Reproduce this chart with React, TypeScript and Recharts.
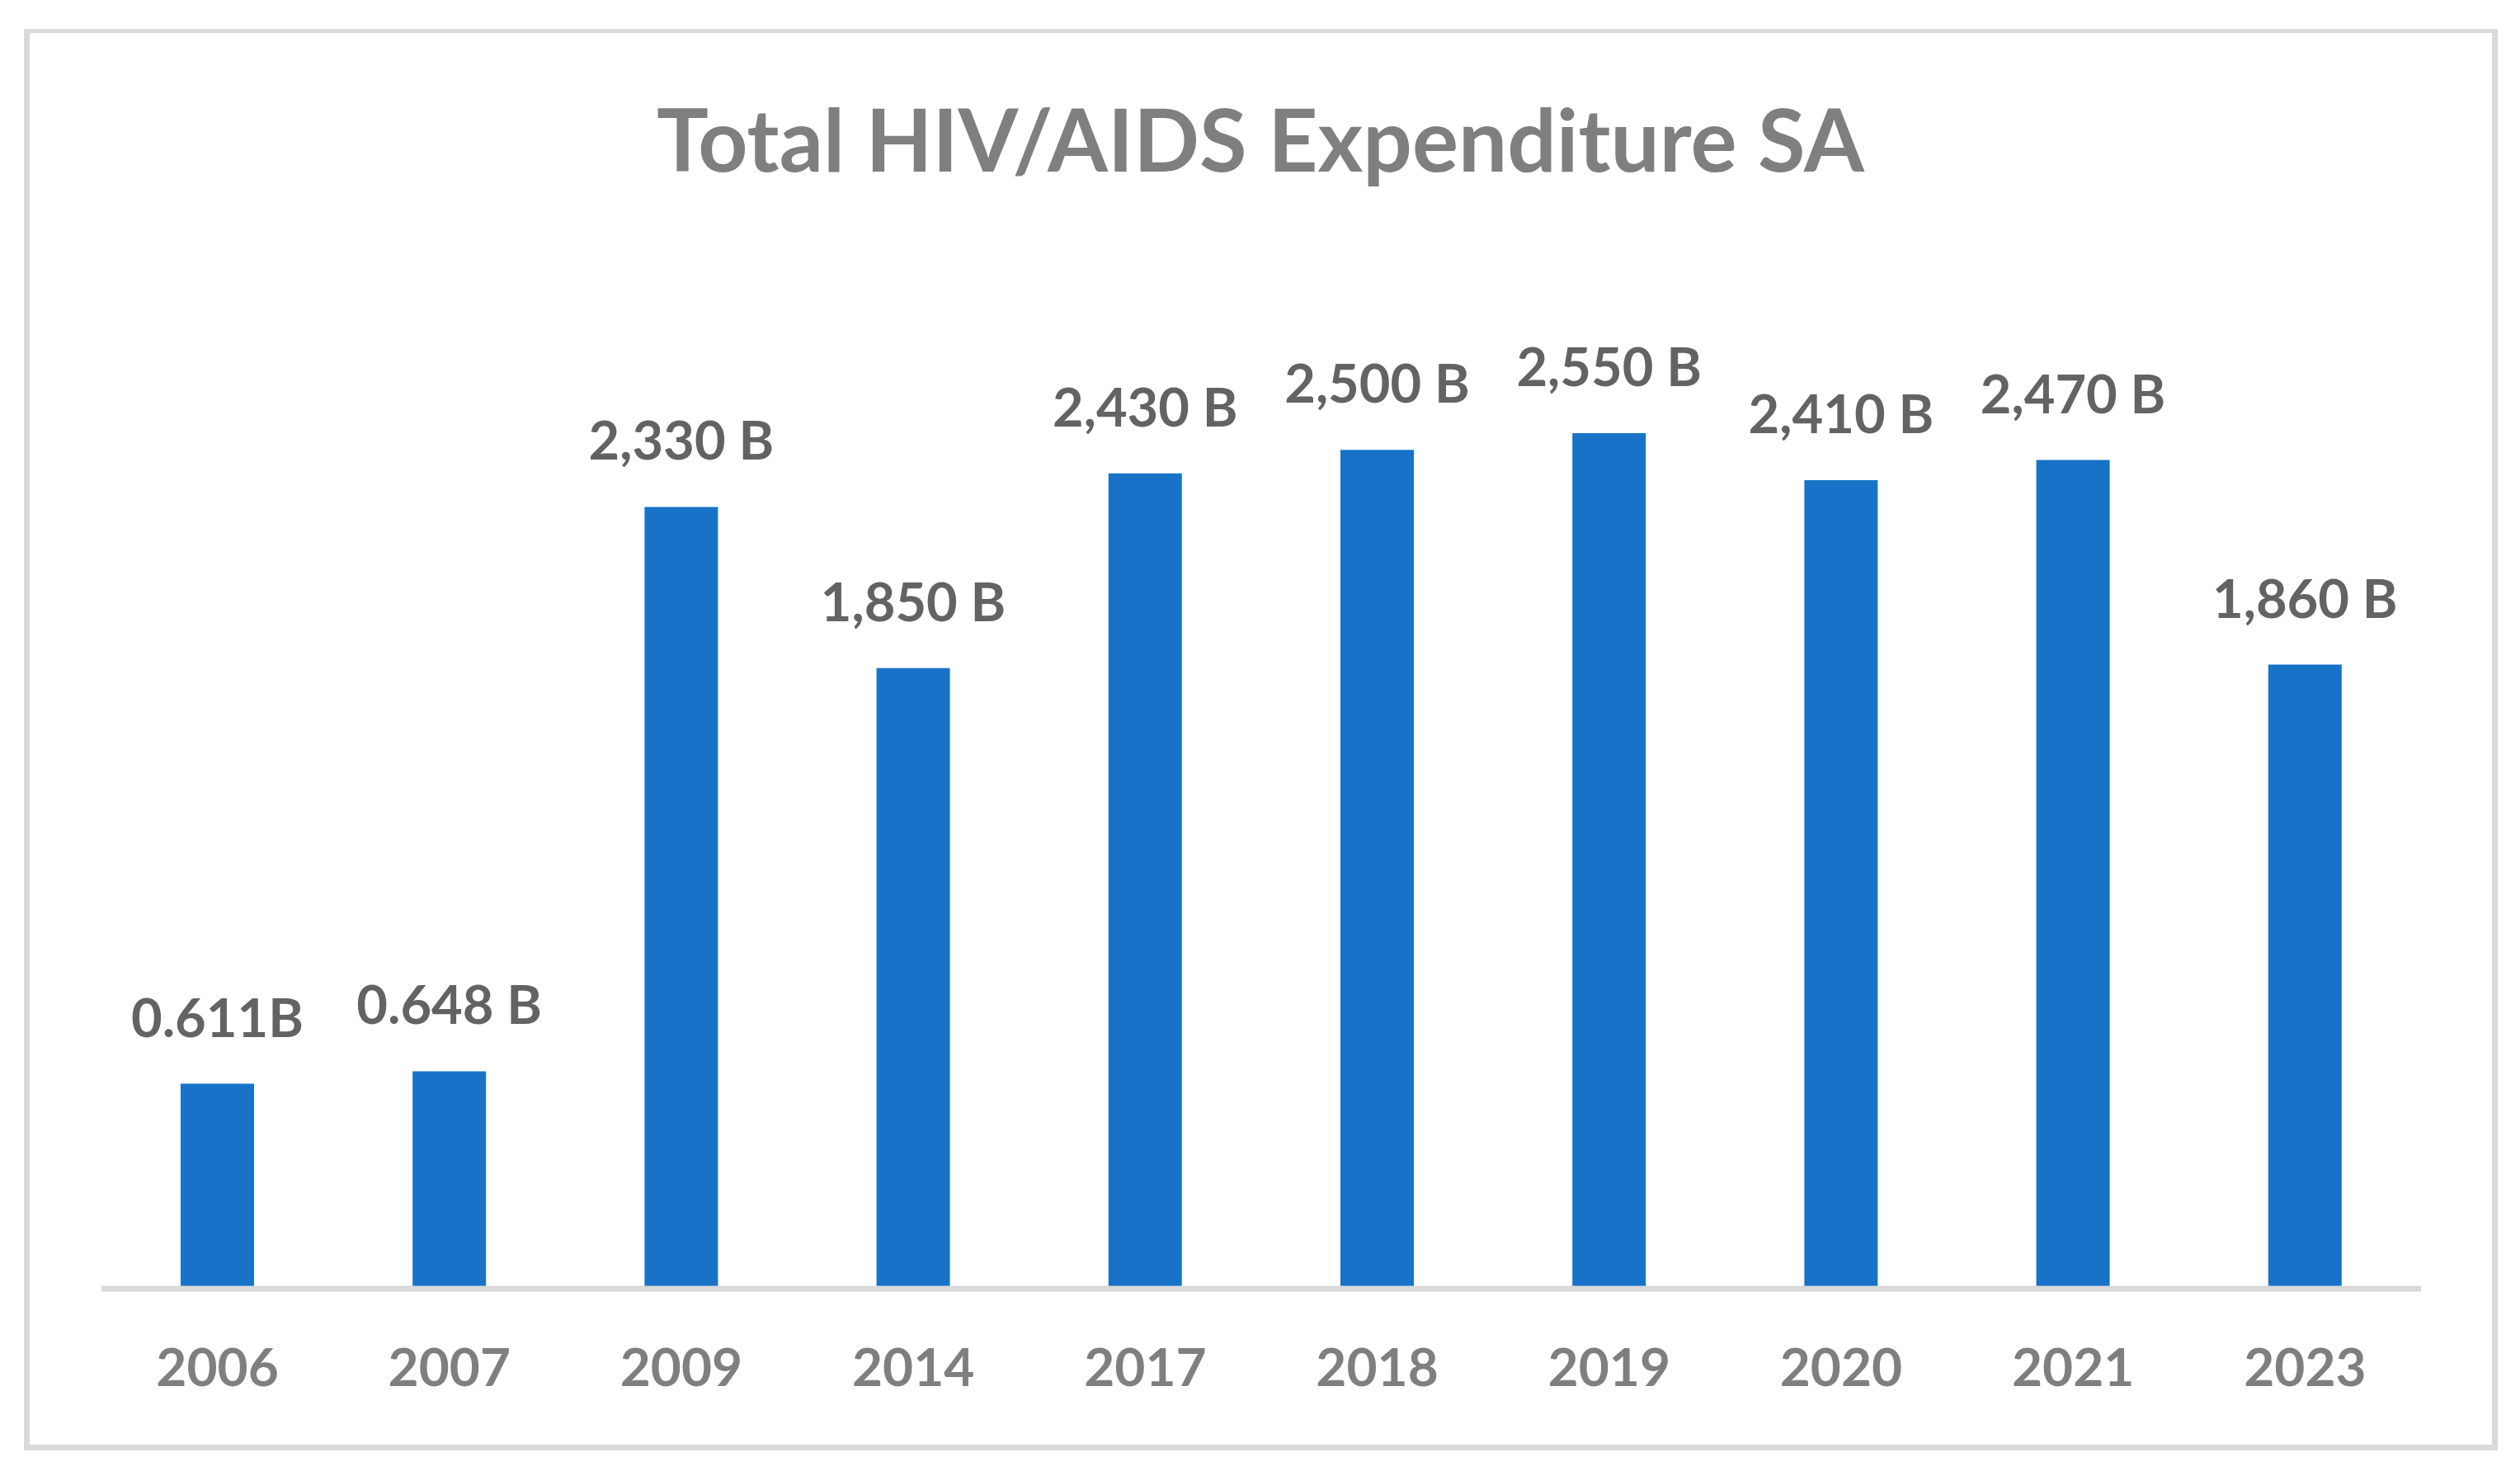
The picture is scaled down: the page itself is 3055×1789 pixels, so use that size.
import { BarChart, Bar, XAxis, YAxis, LabelList } from "recharts"

const years = ["2006", "2007", "2009", "2014", "2017", "2018", "2019", "2020", "2021", "2023"]
// spending in billions
const spend = [0.611, 0.648, 2.33, 1.85, 2.43, 2.5, 2.55, 2.41, 2.47, 1.86]
const labels = ["0.611B", "0.648 B", "2,330 B", "1,850 B", "2,430 B", "2,500 B", "2,550 B", "2,410 B", "2,470 B", "1,860 B"]

const W = 3055
const H = 1789
const FONT = "Lato, 'Open Sans', sans-serif"

const BLUE = "#1873c8"
const LINE = "#d9d9d9"

export default function App() {
  const data = years.map((y, i) => ({ year: y, value: spend[i], label: labels[i] }))

  return (
    <div style={{ position: "absolute", left: 0, top: 0, width: W, height: H, background: "#fff" }}>
      {/* chart frame */}
      <div
        style={{
          position: "absolute",
          left: 29,
          top: 35,
          width: 3028 - 29,
          height: 1758 - 35,
          boxSizing: "border-box",
          borderStyle: "solid",
          borderColor: LINE,
          borderWidth: "5px 7px 7px 7px",
        }}
      />
      <svg width={W} height={H} style={{ position: "absolute", left: 0, top: 0 }}>
        <text
          x={1528}
          y={208}
          textAnchor="middle"
          fill="#7f7f7f"
          style={{ fontFamily: FONT, fontWeight: 700, fontSize: 105 }}
        >
          Total HIV/AIDS Expenditure SA
        </text>
      </svg>
      <div style={{ position: "absolute", left: 0, top: 0 }}>
        <BarChart
          width={W}
          height={H}
          data={data}
          margin={{ top: 342, right: 120, bottom: 167, left: 123 }}
        >
          <YAxis hide domain={[0, 3]} />
          <Bar dataKey="value" fill={BLUE} barSize={89} isAnimationActive={false}>
            <LabelList
              dataKey="label"
              position="top"
              offset={57}
              fill="#636363"
              style={{ fontFamily: FONT, fontWeight: 700, fontSize: 65 }}
            />
          </Bar>
          <XAxis
            dataKey="year"
            interval={0}
            height={60}
            tickLine={false}
            tickSize={0}
            tickMargin={73}
            axisLine={{ stroke: LINE, strokeWidth: 7 }}
            tick={{ fill: "#7f7f7f", fontSize: 64, fontWeight: 700, fontFamily: FONT }}
          />
        </BarChart>
      </div>
    </div>
  )
}
